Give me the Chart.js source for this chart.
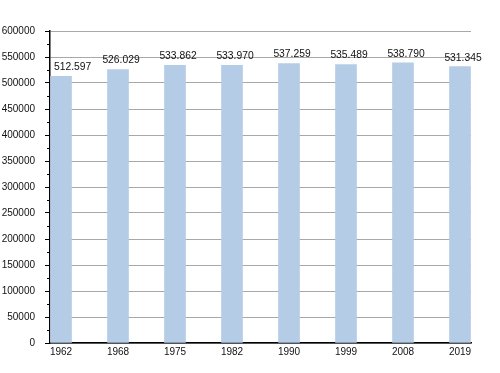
<!DOCTYPE html>
<html>
<head>
<meta charset="utf-8">
<script src="https://cdn.jsdelivr.net/npm/chart.js@4/dist/chart.umd.min.js"></script>
<style>
  body { margin: 0; background: #fff; }
  #wrap { width: 500px; height: 373px; position: relative; }
</style>
</head>
<body>
<div id="wrap"><canvas id="grafico"></canvas></div>
<script>
var anios = ['1962', '1968', '1975', '1982', '1990', '1999', '2008', '2019']
var poblacion = [512597, 526029, 533862, 533970, 537259, 535489, 538790, 531345]
var etiquetas = ['512.597', '526.029', '533.862', '533.970', '537.259', '535.489', '538.790', '531.345']

var fuente = '"Liberation Sans", Arial, sans-serif'

var puntos = poblacion.map(function (v, i) { return { x: i, y: v } })

// etiquetas encima de cada barra
var etiquetasBarras = {
  id: 'etiquetasBarras',
  afterDatasetsDraw: function (chart) {
    var ctx = chart.ctx
    var meta = chart.getDatasetMeta(0)
    ctx.save()
    ctx.font = '10.3px ' + fuente
    ctx.fillStyle = '#111'
    ctx.textAlign = 'center'
    ctx.textBaseline = 'middle'
    meta.data.forEach(function (barra, i) {
      var w = ctx.measureText(etiquetas[i]).width
      var x = Math.max(barra.x + 3, chart.chartArea.left + 4 + w / 2)
      ctx.fillText(etiquetas[i], x, barra.y - 9)
    })
    ctx.restore()
  }
}

// marcas pequeñas del eje y entre las principales
var marcasMenores = {
  id: 'marcasMenores',
  afterDraw: function (chart) {
    var ctx = chart.ctx
    var y = chart.scales.y
    ctx.save()
    ctx.strokeStyle = '#000'
    ctx.lineWidth = 1
    for (var v = 25000; v < 600000; v += 50000) {
      var py = Math.round(y.getPixelForValue(v)) + 0.5
      ctx.beginPath()
      ctx.moveTo(y.right - 3, py)
      ctx.lineTo(y.right, py)
      ctx.stroke()
    }
    ctx.restore()
  }
}

new Chart(document.getElementById('grafico'), {
  type: 'bar',
  data: {
    datasets: [{
      data: puntos,
      backgroundColor: '#b4cce6',
      barThickness: 21,
      borderWidth: 0
    }]
  },
  options: {
    responsive: true,
    maintainAspectRatio: false,
    animation: false,
    layout: { padding: { left: 0, right: 29, top: 31, bottom: 0 } },
    plugins: { legend: { display: false }, tooltip: { enabled: false } },
    scales: {
      x: {
        type: 'linear',
        offset: false,
        min: -0.193,
        max: 7.193,
        afterBuildTicks: function (scale) {
          scale.ticks = anios.map(function (a, i) { return { value: i } })
        },
        afterFit: function (scale) { scale.height = 30 },
        grid: { display: false },
        border: { display: true, color: '#000', width: 1.5 },
        ticks: {
          padding: -5,
          maxRotation: 0,
          autoSkip: false,
          color: '#111',
          font: { family: fuente, size: 10 },
          callback: function (v) { return anios[v] }
        }
      },
      y: {
        min: 0,
        max: 600000,
        afterFit: function (scale) { scale.width = 50 },
        grid: {
          color: function (c) { return c.tick.value % 50000 === 0 ? '#a8a8a8' : '#e0e0e0' },
          tickColor: function (c) { return c.tick.value % 50000 === 0 ? '#000' : 'rgba(0,0,0,0)' },
          tickLength: 5
        },
        border: { display: true, color: '#000', width: 1.5 },
        ticks: {
          stepSize: 25000,
          padding: 10,
          color: '#111',
          font: { family: fuente, size: 10 },
          callback: function (v) { return v % 50000 === 0 ? String(v) : '' }
        }
      }
    }
  },
  plugins: [etiquetasBarras, marcasMenores]
});
</script>
</body>
</html>
